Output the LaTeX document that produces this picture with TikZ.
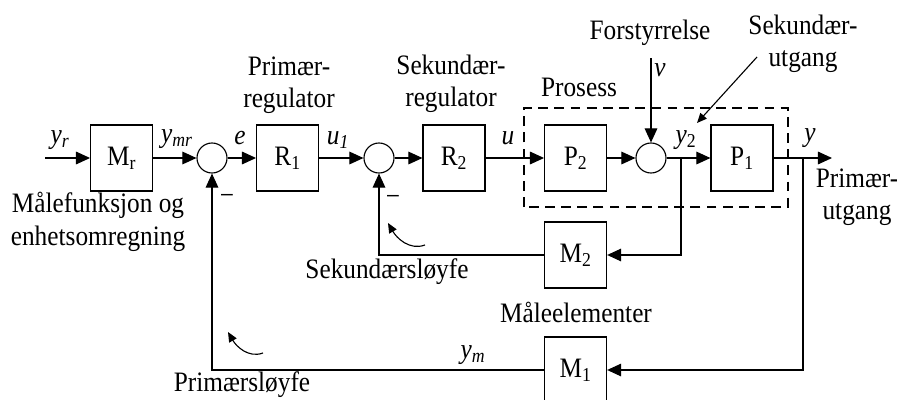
\documentclass[tikz,border=0pt]{standalone}
\usepackage{fontspec}
\setmainfont{Liberation Serif}[FakeStretch=0.9]
\usepackage{tikz}
\usetikzlibrary{arrows.meta, positioning}

\begin{document}
\begin{tikzpicture}[
  font=\fontsize{20}{23}\selectfont,
  blokk/.style={draw, line width=0.8pt, minimum width=1.55cm, minimum height=1.65cm, inner sep=0pt},
  sumpkt/.style={draw, circle, line width=0.8pt, minimum size=0.75cm, inner sep=0pt},
  pil/.style={-{Triangle[length=10pt,width=9pt]}, line width=0.8pt},
  lille/.style={-{Triangle[length=7pt,width=6pt]}, line width=0.8pt},
  tekst/.style={align=center}
]
\useasboundingbox (0,0) rectangle (22.425,9.975);

% 方块与求和点
\node[blokk] (Mr) at (3.04,6.025) {M\textsubscript{r}};
\node[sumpkt] (s1) at (5.3,6.025) {};
\node[blokk] (R1) at (7.19,6.025) {R\textsubscript{1}};
\node[sumpkt] (s2) at (9.475,6.025) {};
\node[blokk] (R2) at (11.35,6.025) {R\textsubscript{2}};
\node[blokk] (P2) at (14.39,6.025) {P\textsubscript{2}};
\node[sumpkt] (s3) at (16.275,6.025) {};
\node[blokk] (P1) at (18.55,6.025) {P\textsubscript{1}};
\node[blokk] (M2) at (14.39,3.6) {M\textsubscript{2}};
\node[blokk] (M1) at (14.39,0.725) {M\textsubscript{1}};

% 辅助点
\coordinate (inn) at (1.125,6.025);
\coordinate (ut) at (20.8,6.025);
\coordinate (y2b) at (17.025,6.025);
\coordinate (yb) at (20.075,6.025);
\coordinate (dist) at (16.275,8.525);

% 过程虚线框
\draw[line width=0.8pt, dash pattern=on 7pt off 4.5pt] (13.1,4.8) rectangle (19.7,7.275);

% 主通道
\draw[pil] (inn) -- (Mr);
\draw[pil] (Mr) -- (s1);
\draw[pil] (s1) -- (R1);
\draw[pil] (R1) -- (s2);
\draw[pil] (s2) -- (R2);
\draw[pil] (R2) -- (P2);
\draw[pil] (P2) -- (s3);
\draw[pil] (s3) -- (P1);
\draw[pil] (P1) -- (ut);
\draw[pil] (dist) -- (s3);

% 反馈回路
\draw[pil] (y2b) |- (M2);
\draw[pil] (M2) -| (s2);
\draw[pil] (yb) |- (M1);
\draw[pil] (M1) -| (s1);

% 信号标注
\node (lyr) at (1.5,6.475) {\textit{y}\textsubscript{\textit{r}}};
\node (lymr) at (4.425,6.5) {\textit{y}\textsubscript{\textit{mr}}};
\node (le) at (6.0,6.525) {\textit{e}};
\node (lu1) at (8.45,6.475) {\textit{u}\textsubscript{\textit{1}}};
\node (lu) at (12.7,6.525) {\textit{u}};
\node (ly2) at (17.15,6.475) {\textit{y}\textsubscript{2}};
\node (ly) at (20.25,6.525) {\textit{y}};
\node (lv) at (16.5,8.225) {\textit{v}};
\node (lym) at (11.825,1.1) {\textit{y}\textsubscript{\textit{m}}};
\node (min1) at (5.675,5.0) {−};
\node (min2) at (9.825,4.975) {−};

% 文字说明
\node[tekst] (tPR) at (7.225,7.85) {Primær-\\regulator};
\node[tekst] (tSR) at (11.275,7.875) {Sekundær-\\regulator};
\node (tPros) at (14.475,7.8) {Prosess};
\node (tForst) at (16.25,9.15) {Forstyrrelse};
\node[tekst] (tSU) at (20.075,8.875) {Sekundær-\\utgang};
\node[tekst] (tPU) at (21.425,5.05) {Primær-\\utgang};
\node[tekst] (tMaal) at (2.45,4.425) {Målefunksjon og\\enhetsomregning};
\node (tSL) at (9.675,3.175) {Sekundærsløyfe};
\node (tME) at (14.4,2.175) {Måleelementer};
\node (tPL) at (6.05,0.35) {Primærsløyfe};

% 指示箭头
\coordinate (suA) at (18.925,8.55);
\coordinate (suB) at (17.425,6.9);
\draw[lille] (suA) -- (suB);
\coordinate (slA) at (10.625,3.85);
\coordinate (slB) at (9.7,4.4);
\draw[lille] (slA) to[out=200, in=-60] (slB);
\coordinate (plA) at (6.575,1.15);
\coordinate (plB) at (5.7,1.675);
\draw[lille] (plA) to[out=200, in=-60] (plB);

\end{tikzpicture}
\end{document}
